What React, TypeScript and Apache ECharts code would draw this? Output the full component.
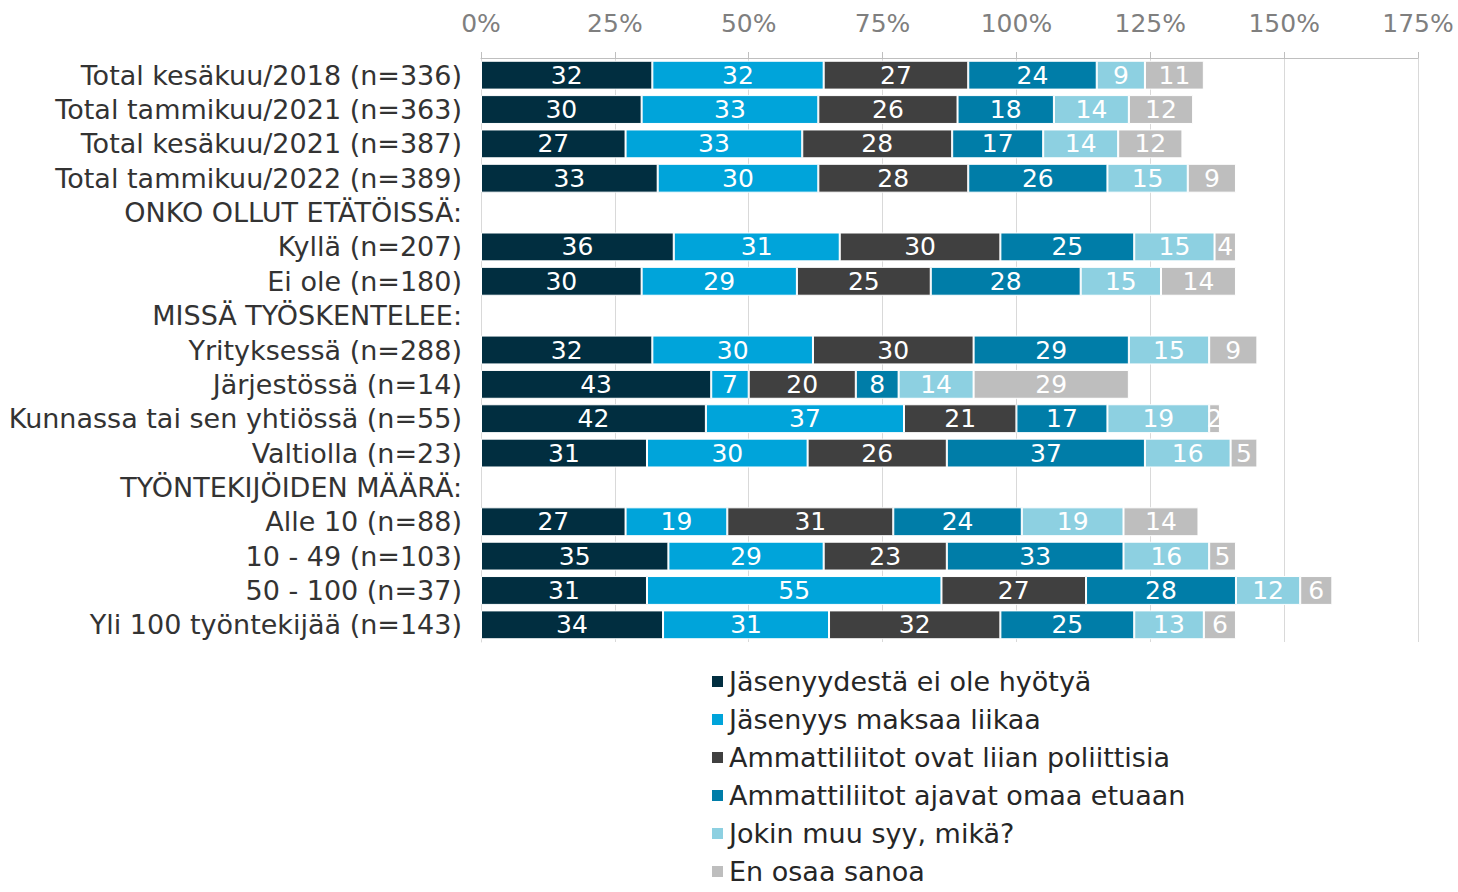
import React, { useEffect, useRef } from "react";
import * as echarts from "echarts";

const categories = [
  "Total kesäkuu/2018 (n=336)",
  "Total tammikuu/2021 (n=363)",
  "Total kesäkuu/2021 (n=387)",
  "Total tammikuu/2022 (n=389)",
  "ONKO OLLUT ETÄTÖISSÄ:",
  "Kyllä (n=207)",
  "Ei ole (n=180)",
  "MISSÄ TYÖSKENTELEE:",
  "Yrityksessä (n=288)",
  "Järjestössä (n=14)",
  "Kunnassa tai sen yhtiössä (n=55)",
  "Valtiolla (n=23)",
  "TYÖNTEKIJÖIDEN MÄÄRÄ:",
  "Alle 10 (n=88)",
  "10 - 49 (n=103)",
  "50 - 100 (n=37)",
  "Yli 100 työntekijää (n=143)",
];

const seriesNames = [
  "Jäsenyydestä ei ole hyötyä",
  "Jäsenyys maksaa liikaa",
  "Ammattiliitot ovat liian poliittisia",
  "Ammattiliitot ajavat omaa etuaan",
  "Jokin muu syy, mikä?",
  "En osaa sanoa",
];

const colors = ["#012E40", "#00A4DA", "#404040", "#007DA8", "#8DD0E1", "#BEBEBE"];

const s1 = [32, 30, 27, 33, null, 36, 30, null, 32, 43, 42, 31, null, 27, 35, 31, 34];
const s2 = [32, 33, 33, 30, null, 31, 29, null, 30, 7, 37, 30, null, 19, 29, 55, 31];
const s3 = [27, 26, 28, 28, null, 30, 25, null, 30, 20, 21, 26, null, 31, 23, 27, 32];
const s4 = [24, 18, 17, 26, null, 25, 28, null, 29, 8, 17, 37, null, 24, 33, 28, 25];
const s5 = [9, 14, 14, 15, null, 15, 15, null, 15, 14, 19, 16, null, 19, 16, 12, 13];
const s6 = [11, 12, 12, 9, null, 4, 14, null, 9, 29, 2, 5, null, 14, 5, 6, 6];

const seriesData = [s1, s2, s3, s4, s5, s6];

const xTicks = { min: 0, max: 175, interval: 25 };

const FONT = "DejaVu Sans, Verdana, sans-serif";

export default function App() {
  const ref = useRef<HTMLDivElement>(null);
  useEffect(() => {
    document.body.style.margin = "0";
    document.body.style.overflow = "hidden";
    if (!ref.current) return;
    const chart = echarts.init(ref.current, undefined, { renderer: "svg" });
    chart.setOption({
      animation: false,
      textStyle: { fontFamily: FONT },
      grid: { left: 481, right: 40, top: 58, bottom: 250, containLabel: false },
      legend: {
        orient: "vertical",
        left: 710,
        top: 668,
        height: 300,
        padding: 0,
        itemWidth: 13,
        itemHeight: 13,
        itemGap: 11,
        icon: "rect",
        textStyle: { fontFamily: FONT, fontSize: 27, color: "#262626", padding: [0, 0, 0, 0] },
        data: seriesNames,
      },
      xAxis: {
        type: "value",
        position: "top",
        min: xTicks.min,
        max: xTicks.max,
        interval: xTicks.interval,
        axisLine: { show: true, lineStyle: { color: "#BFBFBF", width: 1 } },
        axisTick: { show: true, length: 6, lineStyle: { color: "#BFBFBF" } },
        splitLine: { show: true, lineStyle: { color: "#D9D9D9", width: 1 } },
        axisLabel: {
          formatter: "{value}%",
          color: "#7F7F7F",
          fontSize: 25,
          fontFamily: FONT,
          margin: 22,
        },
      },
      yAxis: {
        type: "category",
        inverse: true,
        data: categories,
        axisLine: { show: true, lineStyle: { color: "#D9D9D9" } },
        axisTick: { show: false },
        axisLabel: { interval: 0, color: "#333333", fontSize: 27, fontFamily: FONT, margin: 19 },
      },
      series: seriesNames.map((name, i) => ({
        name,
        type: "bar",
        stack: "total",
        barCategoryGap: "16%",
        data: seriesData[i],
        itemStyle: { color: colors[i], borderColor: "#FFFFFF", borderWidth: 1 },
        label: {
          show: true,
          position: "inside",
          color: "#FFFFFF",
          fontSize: 25,
          fontFamily: FONT,
          formatter: (p: any) => (p.value == null ? "" : String(p.value)),
        },
      })),
    });
    return () => chart.dispose();
  }, []);
  return <div ref={ref} style={{ width: 1458, height: 892 }} />;
}
